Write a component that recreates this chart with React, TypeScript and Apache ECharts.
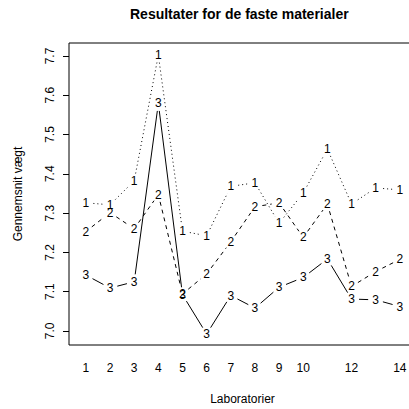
import React, { useEffect, useRef } from "react";
import * as echarts from "echarts";

// Laboratory numbers and mean weights for the three fixed materials
const labs = [1, 2, 3, 4, 5, 6, 7, 8, 9, 10, 11, 12, 13, 14];
const material1 = [7.326, 7.321, 7.382, 7.702, 7.254, 7.242, 7.368, 7.377, 7.274, 7.351, 7.463, 7.323, 7.364, 7.359];
const material2 = [7.253, 7.301, 7.26, 7.347, 7.094, 7.145, 7.227, 7.316, 7.326, 7.238, 7.323, 7.113, 7.151, 7.182];
const material3 = [7.142, 7.109, 7.125, 7.579, 7.092, 6.992, 7.09, 7.058, 7.111, 7.136, 7.183, 7.081, 7.079, 7.062];
const materialNames = ["1", "2", "3"];

const xTickLabels = [1, 2, 3, 4, 5, 6, 7, 8, 9, 10, 12, 14];
const yTickLabels = [7.0, 7.1, 7.2, 7.3, 7.4, 7.5, 7.6, 7.7];

const FONT = '"Liberation Sans", Arial, Helvetica, sans-serif';
const GAP = 7.5;

// Lines broken around each point, with the series number drawn at the point
function makeRenderer(values: number[], label: string, dash: number[] | null) {
  return (params: any, api: any) => {
    const i = params.dataIndex;
    const p = api.coord([api.value(0), api.value(1)]);
    const children: any[] = [
      {
        type: "text",
        x: p[0],
        y: p[1],
        style: {
          text: label,
          fill: "#000",
          font: `12px ${FONT}`,
          textAlign: "center",
          textVerticalAlign: "middle",
          align: "center",
          verticalAlign: "middle",
        },
      },
    ];
    if (i < values.length - 1) {
      const q = api.coord([labs[i + 1], values[i + 1]]);
      const dx = q[0] - p[0];
      const dy = q[1] - p[1];
      const len = Math.hypot(dx, dy);
      if (len > 2 * GAP) {
        const ux = dx / len;
        const uy = dy / len;
        children.push({
          type: "line",
          shape: {
            x1: p[0] + ux * GAP,
            y1: p[1] + uy * GAP,
            x2: q[0] - ux * GAP,
            y2: q[1] - uy * GAP,
          },
          style: { stroke: "#000", lineWidth: 1, lineDash: dash, fill: null },
        });
      }
    }
    return { type: "group", children };
  };
}

export default function App() {
  const ref = useRef<HTMLDivElement>(null);

  useEffect(() => {
    if (!ref.current) return;
    const chart = echarts.init(ref.current, null, { renderer: "svg" });
    const seriesValues = [material1, material2, material3];
    const dashes: (number[] | null)[] = [[1, 3], [4, 4], null];

    chart.setOption({
      animation: false,
      backgroundColor: "#fff",
      title: {
        text: "Resultater for de faste materialer",
        left: 130,
        top: 7,
        padding: 0,
        textStyle: { fontSize: 14, fontWeight: "bold", fontFamily: FONT, color: "#000" },
      },
      grid: {
        left: 69,
        top: 43,
        width: 347,
        height: 302,
        show: true,
        borderColor: "#000",
        borderWidth: 1,
        backgroundColor: "transparent",
        containLabel: false,
        outerBoundsMode: "none",
      },
      xAxis: {
        type: "value",
        min: 0.3,
        max: 14.67,
        name: "Laboratorier",
        nameLocation: "middle",
        nameGap: 48,
        nameTextStyle: { fontSize: 12, fontFamily: FONT, color: "#000" },
        axisLine: { show: false },
        axisTick: { show: false },
        splitLine: { show: false },
        axisLabel: {
          customValues: xTickLabels,
          margin: 17,
          fontSize: 12,
          fontFamily: FONT,
          color: "#000",
        },
      },
      yAxis: {
        type: "value",
        min: 6.964,
        max: 7.733,
        name: "Gennemsnit vægt",
        nameLocation: "middle",
        nameGap: 45,
        nameTextStyle: { fontSize: 12, fontFamily: FONT, color: "#000" },
        axisLine: { show: false },
        axisTick: {
          show: true,
          length: 6,
          customValues: yTickLabels,
          lineStyle: { color: "#000", width: 1 },
        },
        splitLine: { show: false },
        axisLabel: {
          customValues: yTickLabels,
          rotate: 90,
          margin: 13,
          fontSize: 12,
          fontFamily: FONT,
          color: "#000",
          formatter: (v: number) => v.toFixed(1),
        },
      },
      series: seriesValues.map((vals, k) => ({
        type: "custom",
        name: materialNames[k],
        data: labs.map((x, i) => [x, vals[i]]),
        encode: { x: 0, y: 1 },
        renderItem: makeRenderer(vals, materialNames[k], dashes[k]),
      })),
    });

    return () => chart.dispose();
  }, []);

  return (
    <div
      ref={ref}
      style={{ position: "fixed", left: 0, top: 0, width: 409, height: 409 }}
    />
  );
}
